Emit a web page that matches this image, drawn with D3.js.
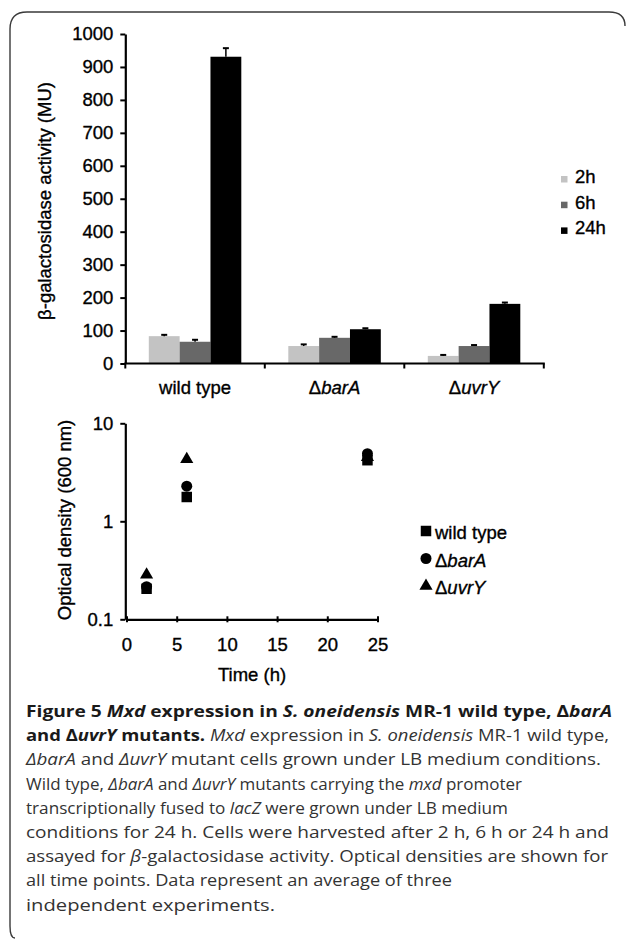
<!DOCTYPE html>
<html>
<head>
<meta charset="utf-8">
<script src="https://cdn.jsdelivr.net/npm/d3@7"></script>
<style>
  html, body { margin: 0; padding: 0; background: #fff; }
  svg { display: block; }
  .chart text { font-family: "Liberation Sans", Arial, sans-serif; font-size: 18.5px; fill: #000; stroke: #000; stroke-width: 0.35px; }
  .caption text { font-family: "Open Sans", sans-serif; font-size: 16px; fill: #333; }
</style>
</head>
<body>
<svg id="fig" width="629" height="943"></svg>
<script>
// bar chart: beta-galactosidase activity (MU)
const groups = ["wt", "barA", "uvrY"];
const groupLabels = [["wild type", ""], ["Δ", "barA"], ["Δ", "uvrY"]];
const times = ["2h", "6h", "24h"];
const timeColors = ["#c3c3c3", "#686868", "#000000"];
const act2h = [83, 53, 23];
const act6h = [66, 78, 53];
const act24h = [931, 104, 181];
const err2h = [4, 5, 3];
const err6h = [6, 3, 3];
const err24h = [26, 3, 4];
const barTicks = [0, 100, 200, 300, 400, 500, 600, 700, 800, 900, 1000];

// scatter: optical density
const hours = [2, 6, 24];
const odWildType = [0.205, 1.77, 4.2];
const odBarA = [0.215, 2.28, 4.9];
const odUvrY = [0.285, 4.29, 4.5];
const odTicks = [0.1, 1, 10];
const hourTicks = [0, 5, 10, 15, 20, 25];

const svg = d3.select("#fig");

// rounded frame (only top and left sides drawn)
svg.append("path")
  .attr("d", "M15,938 Q10,938 10,926 L10,29 Q10,12 27,12 L609,12 Q625,12 625,26")
  .attr("fill", "none").attr("stroke", "#3a3a3a").attr("stroke-width", 1.4);

const chart = svg.append("g").attr("class", "chart");

// ---------- top: bar chart ----------
const actSeries = [act2h, act6h, act24h];
const errSeries = [err2h, err6h, err24h];

const x0 = d3.scaleBand().domain(groups).range([125.3, 543.8]);
const x1 = d3.scaleBand().domain(times).range([23.5, x0.bandwidth() - 23.5]);
const yBar = d3.scaleLinear().domain([0, 1000]).range([363.5, 34]);

const barG = chart.append("g");
times.forEach((t, ti) => {
  const vals = actSeries[ti];
  const errs = errSeries[ti];
  barG.selectAll(null).data(groups).enter().append("rect")
    .attr("x", (d) => x0(d) + x1(t))
    .attr("y", (d, i) => yBar(vals[i]))
    .attr("width", x1.bandwidth())
    .attr("height", (d, i) => yBar(0) - yBar(vals[i]))
    .attr("fill", timeColors[ti]);
  // plus-only error bars
  const cx = (d) => x0(d) + x1(t) + x1.bandwidth() / 2;
  barG.selectAll(null).data(groups).enter().append("line")
    .attr("x1", cx).attr("x2", cx)
    .attr("y1", (d, i) => yBar(vals[i]))
    .attr("y2", (d, i) => yBar(vals[i] + errs[i]))
    .attr("stroke", "#000").attr("stroke-width", 1.5);
  barG.selectAll(null).data(groups).enter().append("line")
    .attr("x1", (d) => cx(d) - 3).attr("x2", (d) => cx(d) + 3)
    .attr("y1", (d, i) => yBar(vals[i] + errs[i]))
    .attr("y2", (d, i) => yBar(vals[i] + errs[i]))
    .attr("stroke", "#000").attr("stroke-width", 2);
});

// y axis
chart.append("g")
  .attr("transform", `translate(${x0.range()[0]},0)`)
  .call(d3.axisLeft(yBar).tickValues(barTicks).tickFormat(d3.format("d")).tickSize(5).tickSizeOuter(0).tickPadding(7))
  .call((g) => g.select(".domain").attr("stroke-width", 2.2))
  .call((g) => g.selectAll(".tick line").attr("stroke-width", 2))
  .call((g) => g.selectAll(".tick text").attr("font-size", null));

// x axis: baseline + boundary ticks + labels
const xAxisG = chart.append("g").attr("transform", `translate(0,${yBar(0)})`);
xAxisG.append("line")
  .attr("x1", x0.range()[0] - 1).attr("x2", x0.range()[1] + 1)
  .attr("stroke", "#000").attr("stroke-width", 2.2);
const bounds = groups.map((d) => x0(d)).concat([x0(groups[groups.length - 1]) + x0.step()]);
xAxisG.selectAll("line.bnd").data(bounds).enter().append("line")
  .attr("class", "bnd")
  .attr("x1", (d) => d).attr("x2", (d) => d)
  .attr("y1", 0).attr("y2", 5)
  .attr("stroke", "#000").attr("stroke-width", 2);
const xLab = xAxisG.selectAll("text.grp").data(groups).enter().append("text")
  .attr("class", "grp")
  .attr("x", (d) => x0(d) + x0.bandwidth() / 2)
  .attr("y", 30.5)
  .attr("text-anchor", "middle");
xLab.append("tspan").text((d, i) => groupLabels[i][0]);
xLab.append("tspan").attr("font-style", "italic").text((d, i) => groupLabels[i][1]);

// y title
chart.append("text")
  .attr("transform", "translate(45,201) rotate(-90)")
  .attr("text-anchor", "middle").attr("dy", "0.35em")
  .text("β-galactosidase activity (MU)");

// legend
const barLeg = chart.append("g").attr("transform", "translate(561,183)");
times.forEach((t, i) => {
  const row = barLeg.append("g").attr("transform", `translate(0,${i * 25.7})`);
  row.append("rect").attr("x", 0).attr("y", -7).attr("width", 6.5).attr("height", 6.5).attr("fill", timeColors[i]);
  row.append("text").attr("x", 14).attr("y", 0).text(t);
});

// ---------- bottom: optical density scatter ----------
const xTime = d3.scaleLinear().domain([0, 25]).range([126.5, 377.5]);
const yOd = d3.scaleLog().domain([0.1, 10]).range([619.3, 423.3]);

chart.append("g")
  .attr("transform", "translate(125.3,0)")
  .call(d3.axisLeft(yOd).tickValues(odTicks).tickFormat((d) => String(d)).tickSize(5).tickSizeOuter(0).tickPadding(7))
  .call((g) => g.select(".domain").attr("stroke-width", 2.2))
  .call((g) => g.selectAll(".tick line").attr("stroke-width", 2))
  .call((g) => g.selectAll(".tick text").attr("font-size", null));

chart.append("g")
  .attr("transform", `translate(0,${yOd(0.1)})`)
  .call(d3.axisBottom(xTime).tickValues(hourTicks).tickSize(6).tickSizeOuter(0).tickPadding(13))
  .call((g) => g.select(".domain").attr("stroke-width", 2.2))
  .call((g) => g.selectAll(".tick line").attr("y1", -3).attr("y2", 3).attr("stroke-width", 2))
  .call((g) => g.selectAll(".tick text").attr("font-size", null));

chart.append("text")
  .attr("x", (xTime(0) + xTime(25)) / 2).attr("y", 681)
  .attr("text-anchor", "middle").text("Time (h)");

chart.append("text")
  .attr("transform", "translate(65,520) rotate(-90)")
  .attr("text-anchor", "middle").attr("dy", "0.35em")
  .text("Optical density (600 nm)");

const sym = [d3.symbolSquare, d3.symbolCircle, d3.symbolTriangle];
const symSize = [110, 95, 75];
const odSeries = [odWildType, odBarA, odUvrY];
const ptsG = chart.append("g");
odSeries.forEach((vals, si) => {
  ptsG.selectAll(null).data(hours).enter().append("path")
    .attr("transform", (d, i) => `translate(${xTime(d)},${yOd(vals[i])})`)
    .attr("d", d3.symbol().type(sym[si]).size(symSize[si]))
    .attr("fill", "#000");
});

// scatter legend
const odLabels = [["wild type", ""], ["Δ", "barA"], ["Δ", "uvrY"]];
const odLeg = chart.append("g").attr("transform", "translate(426,531)");
odLabels.forEach((lab, i) => {
  const row = odLeg.append("g").attr("transform", `translate(0,${i * 27.5})`);
  row.append("path").attr("d", d3.symbol().type(sym[i]).size(symSize[i])).attr("fill", "#000");
  const t = row.append("text").attr("x", 9).attr("y", 8);
  t.append("tspan").text(lab[0]);
  t.append("tspan").attr("font-style", "italic").text(lab[1]);
});

// ---------- caption ----------
const captionLines = [
  [["b", "Figure 5 "], ["bi", "Mxd"], ["b", " expression in "], ["bi", "S. oneidensis"], ["b", " MR-1 wild type, Δ"], ["bi", "barA"]],
  [["b", "and Δ"], ["bi", "uvrY"], ["b", " mutants. "], ["i", "Mxd"], ["r", " expression in "], ["i", "S. oneidensis"], ["r", " MR-1 wild type,"]],
  [["i", "ΔbarA"], ["r", " and "], ["i", "ΔuvrY"], ["r", " mutant cells grown under LB medium conditions."]],
  [["r", "Wild type, "], ["i", "ΔbarA"], ["r", " and "], ["i", "ΔuvrY"], ["r", " mutants carrying the "], ["i", "mxd"], ["r", " promoter"]],
  [["r", "transcriptionally fused to "], ["i", "lacZ"], ["r", " were grown under LB medium"]],
  [["r", "conditions for 24 h. Cells were harvested after 2 h, 6 h or 24 h and"]],
  [["r", "assayed for "], ["i", "β"], ["r", "-galactosidase activity. Optical densities are shown for"]],
  [["r", "all time points. Data represent an average of three"]],
  [["r", "independent experiments."]],
];
const captionEnds = [612, 609, 601, 522, 508, 609, 608, 452, 275];

const cap = svg.append("g").attr("class", "caption");
captionLines.forEach((segs, li) => {
  const t = cap.append("text")
    .attr("x", 26).attr("y", 717 + li * 24.2)
    .attr("textLength", captionEnds[li] - 26)
    .attr("lengthAdjust", "spacingAndGlyphs");
  segs.forEach(([style, str]) => {
    const s = t.append("tspan").text(str);
    if (style.includes("b")) s.attr("font-weight", "bold").attr("fill", "#1a1a1a");
    if (style.includes("i")) s.attr("font-style", "italic");
  });
});
</script>
</body>
</html>
